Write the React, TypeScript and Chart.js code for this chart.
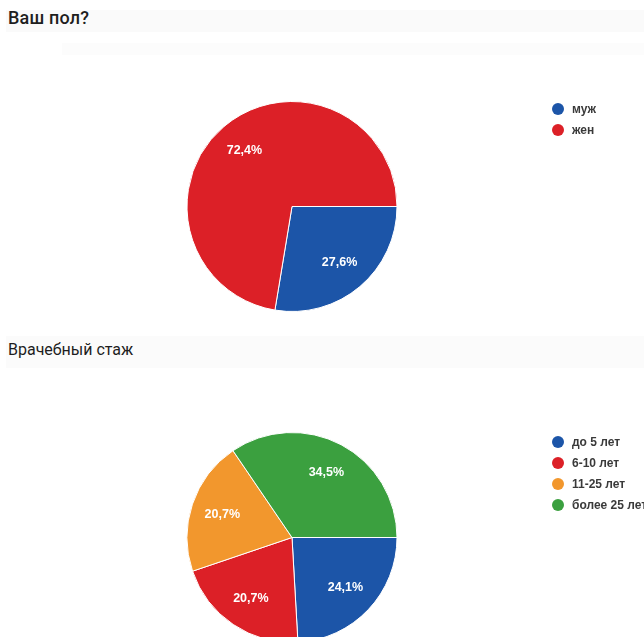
import React, { useEffect, useRef } from "react";
import { Chart, registerables } from "chart.js";

Chart.register(...registerables);

const genderLabels = ["муж", "жен"];
const genderValues = [27.6, 72.4];
const genderColors = ["#1c55a8", "#dc2027"];

const stageLabels = ["до 5 лет", "6-10 лет", "11-25 лет", "более 25 лет"];
const stageValues = [24.1, 20.7, 20.7, 34.5];
const stageColors = ["#1c55a8", "#dc2027", "#f2972d", "#3ba03f"];

const sliceLabelPlugin = {
  id: "sliceLabels",
  afterDatasetsDraw(chart: any) {
    const ctx = chart.ctx;
    const meta = chart.getDatasetMeta(0);
    const data = chart.data.datasets[0].data as number[];
    ctx.save();
    ctx.fillStyle = "#ffffff";
    ctx.font = "bold 12.5px 'Liberation Sans', Arial, sans-serif";
    ctx.textAlign = "center";
    ctx.textBaseline = "middle";
    meta.data.forEach((arc: any, i: number) => {
      const p = arc.getProps(["x", "y", "startAngle", "endAngle", "outerRadius"], true);
      const mid = (p.startAngle + p.endAngle) / 2;
      const r = p.outerRadius * 0.7;
      const txt = data[i].toFixed(1).replace(".", ",") + "%";
      ctx.fillText(txt, p.x + Math.cos(mid) * r, p.y + Math.sin(mid) * r);
    });
    ctx.restore();
  },
};

const legendPlugin = {
  id: "sideLegend",
  afterDraw(chart: any, _args: any, opts: any) {
    const ctx = chart.ctx;
    const labels = chart.data.labels as string[];
    const colors = chart.data.datasets[0].backgroundColor as string[];
    ctx.save();
    ctx.font = "bold 12px 'Liberation Sans', Arial, sans-serif";
    ctx.textBaseline = "middle";
    ctx.textAlign = "left";
    labels.forEach((lab, i) => {
      const y = opts.y + i * opts.step;
      ctx.beginPath();
      ctx.arc(opts.x, y, 6, 0, Math.PI * 2);
      ctx.fillStyle = colors[i];
      ctx.fill();
      ctx.fillStyle = "#3a3a3a";
      ctx.fillText(lab, opts.x + 14, y + 1);
    });
    ctx.restore();
  },
};

function PieBlock(props: {
  labels: string[];
  values: number[];
  colors: string[];
  top: number;
  height: number;
  padding: { left: number; right: number; top: number; bottom: number };
  legendY: number;
}) {
  const ref = useRef<HTMLCanvasElement>(null);
  useEffect(() => {
    const chart = new Chart(ref.current as HTMLCanvasElement, {
      type: "pie",
      data: {
        labels: props.labels,
        datasets: [
          {
            data: props.values,
            backgroundColor: props.colors,
            borderColor: "#ffffff",
            borderWidth: 1,
          },
        ],
      },
      options: {
        responsive: false,
        animation: false,
        rotation: 90,
        layout: { padding: props.padding },
        plugins: {
          legend: { display: false },
          tooltip: { enabled: false },
          sideLegend: { x: 558, y: props.legendY, step: 21 },
        } as any,
      },
      plugins: [sliceLabelPlugin, legendPlugin],
    });
    return () => chart.destroy();
  }, []);
  return (
    <canvas
      ref={ref}
      width={644}
      height={props.height}
      style={{ position: "absolute", left: 0, top: props.top, width: 644, height: props.height }}
    />
  );
}

const titleStyle: React.CSSProperties = {
  position: "absolute",
  left: 8,
  fontFamily: "Roboto, 'Liberation Sans', Arial, sans-serif",
  fontWeight: 500,
  color: "#1e1e1e",
  whiteSpace: "nowrap",
  lineHeight: 1,
};

export default function App() {
  return (
    <div
      style={{
        position: "fixed",
        left: 0,
        top: 0,
        width: 644,
        height: 637,
        overflow: "hidden",
        background: "#ffffff",
      }}
    >
      <div style={{ position: "absolute", left: 6, top: 10, width: 638, height: 22, background: "#fafafa" }} />
      <div style={{ position: "absolute", left: 62, top: 43, width: 582, height: 12, background: "#fcfcfc" }} />
      <div style={{ position: "absolute", left: 6, top: 336, width: 638, height: 32, background: "#fbfbfb" }} />
      <div style={{ ...titleStyle, top: 9, fontSize: 18, letterSpacing: 0.2 }}>Ваш пол?</div>
      <div style={{ ...titleStyle, top: 342, fontSize: 16, fontWeight: 400 }}>Врачебный стаж</div>
      <PieBlock
        labels={genderLabels}
        values={genderValues}
        colors={genderColors}
        top={90}
        height={230}
        padding={{ left: 186, right: 246, top: 11, bottom: 8 }}
        legendY={19}
      />
      <PieBlock
        labels={stageLabels}
        values={stageValues}
        colors={stageColors}
        top={420}
        height={240}
        padding={{ left: 186, right: 246, top: 12, bottom: 17 }}
        legendY={22}
      />
    </div>
  );
}
